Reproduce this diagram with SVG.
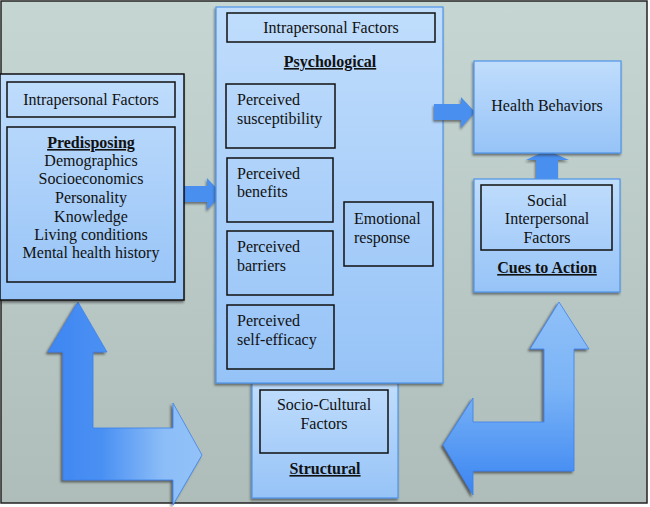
<svg xmlns="http://www.w3.org/2000/svg" width="650" height="507" viewBox="0 0 650 507">
<defs>
<linearGradient id="bg" x1="0" y1="0" x2="0" y2="1"><stop offset="0" stop-color="#c6d6d3"/><stop offset="1" stop-color="#aebdb9"/></linearGradient>
<linearGradient id="box" x1="0" y1="0" x2="0" y2="1"><stop offset="0" stop-color="#c0ddfc"/><stop offset="1" stop-color="#96c3f7"/></linearGradient>
<linearGradient id="lg" x1="0" y1="0" x2="1" y2="0"><stop offset="0" stop-color="#3e86f2"/><stop offset="0.35" stop-color="#4a90f3"/><stop offset="0.75" stop-color="#8cbdf7"/><stop offset="1" stop-color="#92c2f8"/></linearGradient>
<linearGradient id="rg" x1="0" y1="0" x2="0" y2="1"><stop offset="0" stop-color="#90c1f8"/><stop offset="0.45" stop-color="#7ab3f6"/><stop offset="1" stop-color="#3b85f2"/></linearGradient>
<filter id="sh" x="-10%" y="-10%" width="125%" height="125%"><feDropShadow dx="-1" dy="2" stdDeviation="0.8" flood-color="#333" flood-opacity="0.6"/></filter>
<filter id="sh2" x="-10%" y="-10%" width="125%" height="125%"><feDropShadow dx="-2" dy="2" stdDeviation="0.8" flood-color="#333" flood-opacity="0.7"/></filter>
</defs>
<style>
text{font-family:'Liberation Serif','DejaVu Serif','Times New Roman',serif;font-size:16px;fill:#111}
.c{text-anchor:middle}
.b{font-weight:bold;text-decoration:underline}
.bb{fill:url(#box);stroke:#111;stroke-width:1.5}
.bl{fill:url(#box);stroke:#4f95ea;stroke-width:1.2}
.in{fill:none;stroke:#111;stroke-width:1.5}
.ar{fill:#4a8ff0}
</style>
<rect x="1" y="1" width="646" height="502" fill="url(#bg)" stroke="#222" stroke-width="1.5"/>

<g id="connectors">
<path id="arrow-left-L" filter="url(#sh2)" fill="url(#lg)" stroke="#3b82ee" stroke-width="0.8" d="M78,302 L107,352 L93,352 L93,428 L173,428 L173,403 L202,455 L173,505 L173,480 L63,480 L63,352 L48,352 Z"/>
<path id="arrow-right-L" filter="url(#sh2)" fill="url(#rg)" stroke="#3b82ee" stroke-width="0.8" d="M559,302 L589,349 L574,349 L574,471 L473,471 L473,495 L443,445 L473,398 L473,422 L544,422 L544,349 L530,349 Z"/>
<path id="arrow-pred-psych" class="ar" filter="url(#sh)" d="M184,186 L207,186 L207,178 L222,194 L207,210 L207,202 L184,202 Z"/>
<path id="arrow-cues-health" class="ar" filter="url(#sh)" d="M536,179 L536,160 L526,160 L547,150 L569,160 L558,160 L558,179 Z"/>
</g>

<g id="predisposing">
<rect class="bb" x="0" y="74" width="184" height="226" filter="url(#sh)"/>
<rect class="in" x="7" y="82" width="168" height="35"/>
<text class="c" x="91" y="105">Intrapersonal Factors</text>
<rect class="in" x="7" y="127" width="168" height="155"/>
<text class="c b" x="91" y="148">Predisposing</text>
<text class="c" x="91" y="166">Demographics</text>
<text class="c" x="91" y="184">Socioeconomics</text>
<text class="c" x="91" y="203">Personality</text>
<text class="c" x="91" y="222">Knowledge</text>
<text class="c" x="91" y="240">Living conditions</text>
<text class="c" x="91" y="258">Mental health history</text>
</g>

<g id="structural">
<rect class="bl" x="252" y="383" width="146" height="115" filter="url(#sh)"/>
<rect class="in" x="260" y="390" width="128" height="63"/>
<text class="c" x="324" y="410">Socio-Cultural</text>
<text class="c" x="324" y="429">Factors</text>
<text class="c b" x="325" y="474">Structural</text>
</g>

<g id="psychological">
<rect class="bl" x="216" y="7" width="227" height="376" filter="url(#sh)"/>
<rect class="in" x="227" y="13" width="208" height="29"/>
<text class="c" x="331" y="33">Intrapersonal Factors</text>
<text class="c b" x="330" y="67">Psychological</text>
<g id="susceptibility"><rect class="in" x="226" y="84" width="109" height="64"/>
<text x="237" y="105">Perceived</text><text x="237" y="124">susceptibility</text></g>
<g id="benefits"><rect class="in" x="227" y="158" width="106" height="64"/>
<text x="237" y="179">Perceived</text><text x="237" y="197">benefits</text></g>
<g id="barriers"><rect class="in" x="227" y="231" width="106" height="64"/>
<text x="237" y="252">Perceived</text><text x="237" y="271">barriers</text></g>
<g id="selfefficacy"><rect class="in" x="227" y="305" width="107" height="64"/>
<text x="237" y="326">Perceived</text><text x="237" y="345">self-efficacy</text></g>
<g id="emotional"><rect class="in" x="344" y="202" width="89" height="64"/>
<text x="354" y="224">Emotional</text><text x="354" y="243">response</text></g>
</g>

<path id="arrow-psych-health" class="ar" filter="url(#sh)" d="M434,104 L461,104 L461,97 L475,112 L461,128 L461,120 L434,120 Z"/>

<g id="health">
<rect class="bl" x="474" y="61" width="147" height="92" filter="url(#sh)"/>
<text class="c" x="547" y="111">Health Behaviors</text>
</g>

<g id="cues">
<rect class="bl" x="474" y="179" width="146" height="113" filter="url(#sh)"/>
<rect class="in" x="481" y="185" width="131" height="65"/>
<text class="c" x="547" y="206">Social</text>
<text class="c" x="547" y="224">Interpersonal</text>
<text class="c" x="547" y="243">Factors</text>
<text class="c b" x="547" y="273">Cues to Action</text>
</g>
</svg>
